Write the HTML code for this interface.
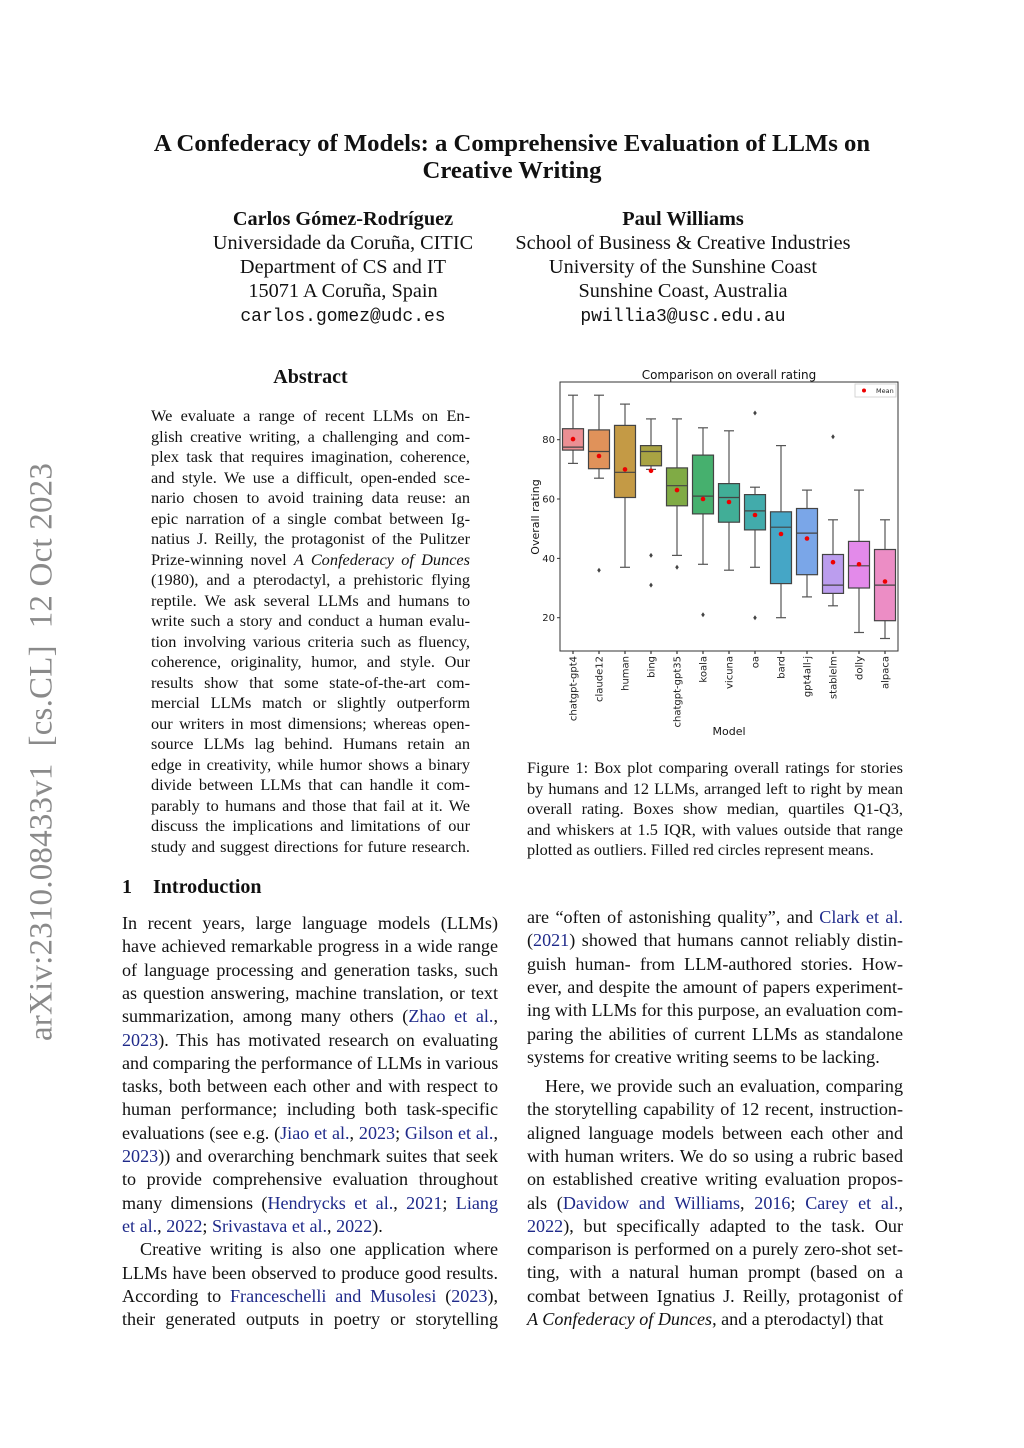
<!DOCTYPE html>
<html><head><meta charset="utf-8">
<style>
body{margin:0;background:#fff;}
#p{position:relative;width:1024px;height:1448px;overflow:hidden;font-family:"Liberation Serif",serif;color:#111;}
.a{position:absolute;white-space:nowrap;}
.c{position:absolute;text-align:center;white-space:nowrap;}
.L{position:absolute;white-space:nowrap;text-align:justify;text-align-last:justify;}
.ab{font-size:16.3px;line-height:20.5px;}
.bd{font-size:18.1px;line-height:23.3px;}
.ln{color:#1f2a8a;}
.mono{font-family:"Liberation Mono",monospace;}
</style></head><body><div id="p">

<div class="a" style="left:42px;top:752px;transform:translate(-50%,-50%) rotate(-90deg);font-size:33px;color:#8a8a8a;letter-spacing:0.2px;">arXiv:2310.08433v1&nbsp; [cs.CL]&nbsp; 12 Oct 2023</div>

<div class="c" style="left:0;width:1024px;top:130px;font-size:24.7px;font-weight:bold;line-height:27px;">A Confederacy of Models: a Comprehensive Evaluation of LLMs on<br>Creative Writing</div>

<div class="c" style="left:183px;width:320px;top:207px;font-size:20.3px;line-height:24px;"><b>Carlos Gómez-Rodríguez</b><br>Universidade da Coruña, CITIC<br>Department of CS and IT<br>15071 A Coruña, Spain<br><span class="mono" style="font-size:18px;">carlos.gomez@udc.es</span></div>
<div class="c" style="left:503px;width:360px;top:207px;font-size:20.3px;line-height:24px;"><b>Paul Williams</b><br>School of Business &amp; Creative Industries<br>University of the Sunshine Coast<br>Sunshine Coast, Australia<br><span class="mono" style="font-size:18px;">pwillia3@usc.edu.au</span></div>

<div class="c" style="left:151px;width:319px;top:366px;font-size:20px;font-weight:bold;">Abstract</div>

<div class="ab">
<div class="L" style="left:151px;width:319px;top:406px">We evaluate a range of recent LLMs on En-</div>
<div class="L" style="left:151px;width:319px;top:426.5px">glish creative writing, a challenging and com-</div>
<div class="L" style="left:151px;width:319px;top:447px">plex task that requires imagination, coherence,</div>
<div class="L" style="left:151px;width:319px;top:467.5px">and style. We use a difficult, open-ended sce-</div>
<div class="L" style="left:151px;width:319px;top:488px">nario chosen to avoid training data reuse: an</div>
<div class="L" style="left:151px;width:319px;top:508.5px">epic narration of a single combat between Ig-</div>
<div class="L" style="left:151px;width:319px;top:529px">natius J. Reilly, the protagonist of the Pulitzer</div>
<div class="L" style="left:151px;width:319px;top:549.5px">Prize-winning novel <i>A Confederacy of Dunces</i></div>
<div class="L" style="left:151px;width:319px;top:570px">(1980), and a pterodactyl, a prehistoric flying</div>
<div class="L" style="left:151px;width:319px;top:590.5px">reptile. We ask several LLMs and humans to</div>
<div class="L" style="left:151px;width:319px;top:611px">write such a story and conduct a human evalu-</div>
<div class="L" style="left:151px;width:319px;top:631.5px">tion involving various criteria such as fluency,</div>
<div class="L" style="left:151px;width:319px;top:652px">coherence, originality, humor, and style. Our</div>
<div class="L" style="left:151px;width:319px;top:672.5px">results show that some state-of-the-art com-</div>
<div class="L" style="left:151px;width:319px;top:693px">mercial LLMs match or slightly outperform</div>
<div class="L" style="left:151px;width:319px;top:713.5px">our writers in most dimensions; whereas open-</div>
<div class="L" style="left:151px;width:319px;top:734px">source LLMs lag behind. Humans retain an</div>
<div class="L" style="left:151px;width:319px;top:754.5px">edge in creativity, while humor shows a binary</div>
<div class="L" style="left:151px;width:319px;top:775px">divide between LLMs that can handle it com-</div>
<div class="L" style="left:151px;width:319px;top:795.5px">parably to humans and those that fail at it. We</div>
<div class="L" style="left:151px;width:319px;top:816px">discuss the implications and limitations of our</div>
<div class="L" style="left:151px;width:319px;top:836.5px">study and suggest directions for future research.</div>

<div class="L" style="left:527px;width:376px;top:758px">Figure 1: Box plot comparing overall ratings for stories</div>
<div class="L" style="left:527px;width:376px;top:778.5px">by humans and 12 LLMs, arranged left to right by mean</div>
<div class="L" style="left:527px;width:376px;top:799px">overall rating. Boxes show median, quartiles Q1-Q3,</div>
<div class="L" style="left:527px;width:376px;top:819.5px">and whiskers at 1.5 IQR, with values outside that range</div>
<div class="a" style="left:527px;top:840px">plotted as outliers. Filled red circles represent means.</div>
</div>

<div class="a" style="left:122px;top:876px;font-size:20px;font-weight:bold;">1</div>
<div class="a" style="left:153px;top:876px;font-size:20px;font-weight:bold;">Introduction</div>

<div class="bd">
<div class="L" style="left:122px;width:376px;top:912px">In recent years, large language models (LLMs)</div>
<div class="L" style="left:122px;width:376px;top:935.3px">have achieved remarkable progress in a wide range</div>
<div class="L" style="left:122px;width:376px;top:958.6px">of language processing and generation tasks, such</div>
<div class="L" style="left:122px;width:376px;top:981.9px">as question answering, machine translation, or text</div>
<div class="L" style="left:122px;width:376px;top:1005.2px">summarization, among many others (<span class="ln">Zhao et al.</span>,</div>
<div class="L" style="left:122px;width:376px;top:1028.5px"><span class="ln">2023</span>). This has motivated research on evaluating</div>
<div class="L" style="left:122px;width:376px;top:1051.8px">and comparing the performance of LLMs in various</div>
<div class="L" style="left:122px;width:376px;top:1075.1px">tasks, both between each other and with respect to</div>
<div class="L" style="left:122px;width:376px;top:1098.4px">human performance; including both task-specific</div>
<div class="L" style="left:122px;width:376px;top:1121.7px">evaluations (see e.g. (<span class="ln">Jiao et al.</span>, <span class="ln">2023</span>; <span class="ln">Gilson et al.</span>,</div>
<div class="L" style="left:122px;width:376px;top:1145px"><span class="ln">2023</span>)) and overarching benchmark suites that seek</div>
<div class="L" style="left:122px;width:376px;top:1168.3px">to provide comprehensive evaluation throughout</div>
<div class="L" style="left:122px;width:376px;top:1191.6px">many dimensions (<span class="ln">Hendrycks et al.</span>, <span class="ln">2021</span>; <span class="ln">Liang</span></div>
<div class="a" style="left:122px;top:1214.9px"><span class="ln">et al.</span>, <span class="ln">2022</span>; <span class="ln">Srivastava et al.</span>, <span class="ln">2022</span>).</div>
<div class="L" style="left:140px;width:358px;top:1238.2px">Creative writing is also one application where</div>
<div class="L" style="left:122px;width:376px;top:1261.5px">LLMs have been observed to produce good results.</div>
<div class="L" style="left:122px;width:376px;top:1284.8px">According to <span class="ln">Franceschelli and Musolesi</span> (<span class="ln">2023</span>),</div>
<div class="L" style="left:122px;width:376px;top:1308.1px">their generated outputs in poetry or storytelling</div>

<div class="L" style="left:527px;width:376px;top:906px">are “often of astonishing quality”, and <span class="ln">Clark et al.</span></div>
<div class="L" style="left:527px;width:376px;top:929.3px">(<span class="ln">2021</span>) showed that humans cannot reliably distin-</div>
<div class="L" style="left:527px;width:376px;top:952.6px">guish human- from LLM-authored stories. How-</div>
<div class="L" style="left:527px;width:376px;top:975.9px">ever, and despite the amount of papers experiment-</div>
<div class="L" style="left:527px;width:376px;top:999.2px">ing with LLMs for this purpose, an evaluation com-</div>
<div class="L" style="left:527px;width:376px;top:1022.5px">paring the abilities of current LLMs as standalone</div>
<div class="a" style="left:527px;top:1045.8px">systems for creative writing seems to be lacking.</div>
<div class="L" style="left:545px;width:358px;top:1075px">Here, we provide such an evaluation, comparing</div>
<div class="L" style="left:527px;width:376px;top:1098.3px">the storytelling capability of 12 recent, instruction-</div>
<div class="L" style="left:527px;width:376px;top:1121.6px">aligned language models between each other and</div>
<div class="L" style="left:527px;width:376px;top:1144.9px">with human writers. We do so using a rubric based</div>
<div class="L" style="left:527px;width:376px;top:1168.2px">on established creative writing evaluation propos-</div>
<div class="L" style="left:527px;width:376px;top:1191.5px">als (<span class="ln">Davidow and Williams</span>, <span class="ln">2016</span>; <span class="ln">Carey et al.</span>,</div>
<div class="L" style="left:527px;width:376px;top:1214.8px"><span class="ln">2022</span>), but specifically adapted to the task. Our</div>
<div class="L" style="left:527px;width:376px;top:1238.1px">comparison is performed on a purely zero-shot set-</div>
<div class="L" style="left:527px;width:376px;top:1261.4px">ting, with a natural human prompt (based on a</div>
<div class="L" style="left:527px;width:376px;top:1284.7px">combat between Ignatius J. Reilly, protagonist of</div>
<div class="a" style="left:527px;top:1308px"><i>A Confederacy of Dunces</i>, and a pterodactyl) that</div>
</div>

<svg class="a" style="left:0;top:0" width="1024" height="1448" font-family="DejaVu Sans, sans-serif">
<text x="729" y="379" font-size="12" text-anchor="middle" fill="#111">Comparison on overall rating</text>
<rect x="560" y="382" width="338" height="269" fill="none" stroke="#333" stroke-width="1"/>
<g font-size="10" fill="#222" text-anchor="end">
<line x1="557" y1="439.7" x2="560" y2="439.7" stroke="#333"/><text x="555" y="443">80</text>
<line x1="557" y1="499" x2="560" y2="499" stroke="#333"/><text x="555" y="502.5">60</text>
<line x1="557" y1="558.4" x2="560" y2="558.4" stroke="#333"/><text x="555" y="562">40</text>
<line x1="557" y1="617.7" x2="560" y2="617.7" stroke="#333"/><text x="555" y="621">20</text>
</g>
<text transform="translate(539,517) rotate(-90)" font-size="11" text-anchor="middle" fill="#111">Overall rating</text>
<text x="729" y="735" font-size="11" text-anchor="middle" fill="#111">Model</text>
<rect x="855" y="384" width="41" height="13" fill="#fff" stroke="#ccc" stroke-width="0.8"/>
<circle cx="864" cy="390.5" r="2" fill="#e00"/><text x="876" y="393" font-size="6.5" fill="#222">Mean</text>
<g stroke="#555" stroke-width="1.2" id="bx"></g>
</svg>
<script>
var d=[["chatgpt-gpt4",463.4,450.1,447.1,428.7,395.2,439.1,[],"#ec8f93"],
["claude12",478.2,468.7,451.5,429.9,395.2,456.0,[570.2],"#e0925a"],
["human",567.3,497.5,472.3,425.4,404.1,469.4,[],"#c49a45"],
["bing",469.4,465.8,451.5,445.6,418.9,470.8,[555.4,585.1],"#a9a343"],
["chatgpt-gpt35",555.4,505.8,485.7,467.9,418.9,490.1,[567.3],"#80ab45"],
["koala",564.3,513.9,496.1,455.1,427.8,499.0,[614.7],"#46b06e"],
["vicuna",570.2,522.2,497.5,483.6,430.8,502.0,[],"#41ae97"],
["oa",567.3,529.9,510.9,494.6,487.2,515.0,[413.0,617.7],"#42abab"],
["bard",617.7,583.6,527.2,511.8,445.6,534.0,[],"#45a6c6"],
["gpt4all-j",596.9,574.7,533.1,508.5,490.1,538.5,[],"#7aa6e8"],
["stablelm",605.8,593.4,585.1,554.5,519.8,562.2,[436.7],"#bb9dee"],
["dolly",632.5,588.0,565.8,541.4,490.1,564.3,[],"#e38aea"],
["alpaca",638.5,620.7,585.1,549.5,519.8,581.5,[],"#ec8dc5"]];
var s="";
d.forEach(function(b,i){var c=573+26*i,w=10.5;
s+='<line x1="'+c+'" y1="'+b[1]+'" x2="'+c+'" y2="'+b[2]+'"/>';
s+='<line x1="'+c+'" y1="'+b[4]+'" x2="'+c+'" y2="'+b[5]+'"/>';
s+='<line x1="'+(c-5)+'" y1="'+b[1]+'" x2="'+(c+5)+'" y2="'+b[1]+'"/><line x1="'+(c-5)+'" y1="'+b[5]+'" x2="'+(c+5)+'" y2="'+b[5]+'"/>';
s+='<rect x="'+(c-w)+'" y="'+b[4]+'" width="'+(2*w)+'" height="'+(b[2]-b[4])+'" fill="'+b[8]+'" stroke="#444"/>';
s+='<line x1="'+(c-w)+'" y1="'+b[3]+'" x2="'+(c+w)+'" y2="'+b[3]+'" stroke="#444"/>';
b[7].forEach(function(o){s+='<path d="M'+c+' '+(o-2.5)+'L'+(c+1.8)+' '+o+'L'+c+' '+(o+2.5)+'L'+(c-1.8)+' '+o+'Z" fill="#444" stroke="none"/>';});
s+='<circle cx="'+c+'" cy="'+b[6]+'" r="2.3" fill="#e00" stroke="none"/>';
s+='<line x1="'+c+'" y1="651" x2="'+c+'" y2="654" stroke="#333"/>';
s+='<text transform="translate('+(c+3.5)+',656) rotate(-90)" font-size="10" text-anchor="end" fill="#222" stroke="none">'+b[0]+'</text>';
});
document.getElementById("bx").innerHTML=s;
</script>
</div></body></html>
